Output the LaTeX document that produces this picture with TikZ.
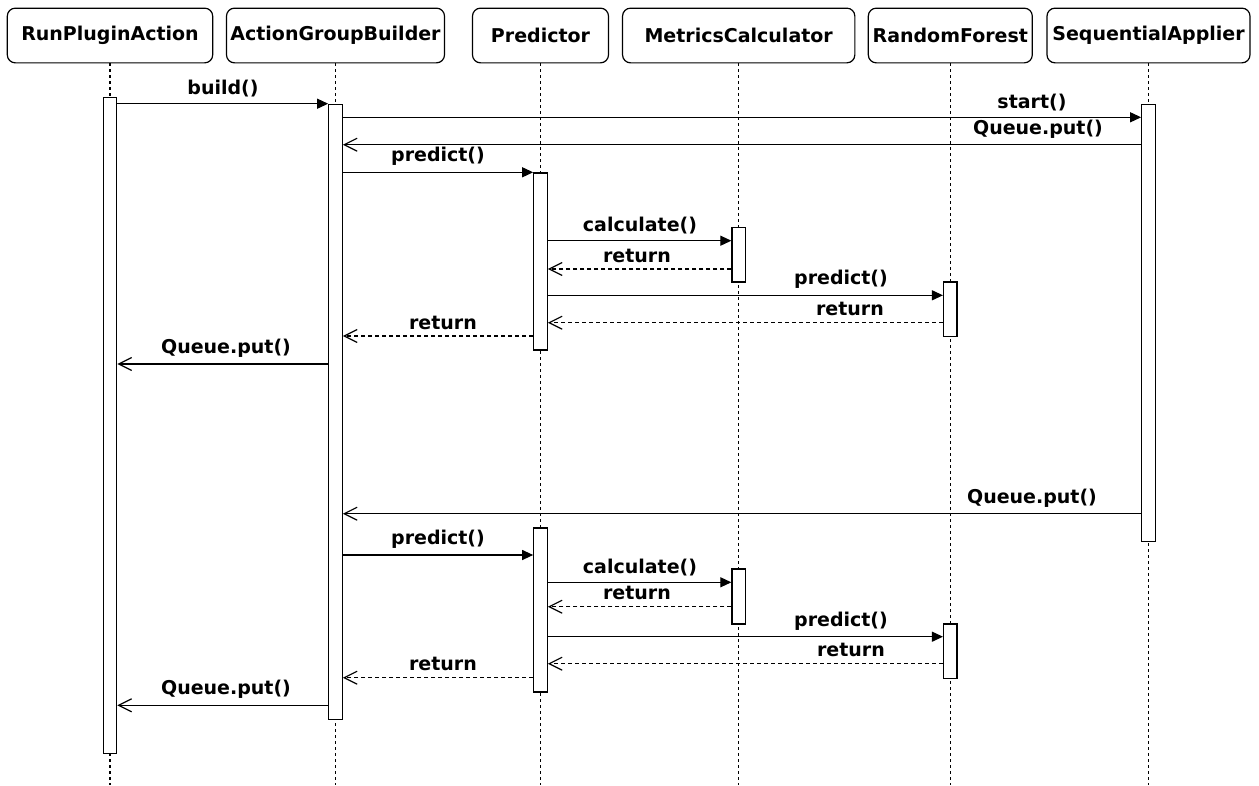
\documentclass[tikz,border=0pt]{standalone}
\usepackage{fontspec}
\setmainfont{DejaVu Sans}
\usetikzlibrary{arrows.meta}

\tikzset{
    head/.style={draw, rounded corners=8pt, minimum height=54.7pt, line width=1.2pt, font=\fontsize{19}{22}\selectfont\bfseries},
    life/.style={line width=1.1pt, dash pattern=on 3pt off 3pt},
    bar/.style={draw, fill=white, line width=1.2pt, minimum width=13.5pt, anchor=north, inner sep=0pt},
    call/.style={line width=1.2pt, -{Triangle[length=11pt,width=10pt]}},
    reply/.style={line width=1.2pt, -{Straight Barb[length=13pt,width=13pt]}},
    ret/.style={reply, dash pattern=on 4pt off 3pt},
    lbl/.style={font=\fontsize{19}{22}\selectfont\bfseries, anchor=south, inner sep=0pt}
}

\begin{document}
\begin{tikzpicture}[x=1pt, y=-1pt]
    \useasboundingbox (0,0) rectangle (1259,785);
    \foreach \name/\x/\w/\title in {rpa/110/205.4/RunPluginAction, agb/335.5/218/ActionGroupBuilder, pr/540.5/136/Predictor, mc/738.7/232.3/MetricsCalculator, rf/950.3/164/RandomForest, sa/1148.5/203/SequentialApplier} {
        \node[head, minimum width=\w pt] (\name) at (\x,35.5) {\title};
        \draw[life] (\name.south) -- (\x,785);
    }
    \foreach \name/\x/\top/\bot in {rpa1/110/96.7/752.7, agb1/335.5/103.7/718.7, sa1/1148.5/103.7/541, pr1/540.5/172.3/349.3, mc1/738.7/226.7/281.3, rf1/950.3/281.3/336, pr2/540.5/527.3/691.3, mc2/738.7/568.3/623.3, rf2/950.3/623.3/677.7} {
        \node[bar, minimum height={(\bot-\top)*1pt}] (\name) at (\x,\top) {};
    }
    \foreach \src/\dst/\y/\lx/\txt in {rpa1/agb1/103.7/223/build(), agb1/sa1/117.3/1032/start(), agb1/pr1/172.3/438/predict(), pr1/mc1/240.7/640/calculate(), pr1/rf1/295.3/841/predict(), agb1/pr2/555/438/predict(), pr2/mc2/582.3/640/calculate(), pr2/rf2/636.7/841/predict()} {
        \draw[call] (\src.east |- 0,\y) -- (\dst.west |- 0,\y) node[lbl] at ({\lx},{\y-6}) {\txt};
    }
    \foreach \src/\dst/\y/\lx/\txt in {sa1/agb1/144.7/1038/Queue.put(), agb1/rpa1/364/226/Queue.put(), sa1/agb1/513.7/1032/Queue.put(), agb1/rpa1/705.3/226/Queue.put()} {
        \draw[reply] (\src.west |- 0,\y) -- (\dst.east |- 0,\y) node[lbl] at ({\lx},{\y-6}) {\txt};
    }
    \foreach \src/\dst/\y/\lx/\txt in {mc1/pr1/269/637/return, rf1/pr1/322.7/850/return, pr1/agb1/336/443/return, mc2/pr2/606.7/637/return, rf2/pr2/663.7/851/return, pr2/agb1/677.7/443/return} {
        \draw[ret] (\src.west |- 0,\y) -- (\dst.east |- 0,\y) node[lbl] at ({\lx},{\y-6}) {\txt};
    }
\end{tikzpicture}
\end{document}
